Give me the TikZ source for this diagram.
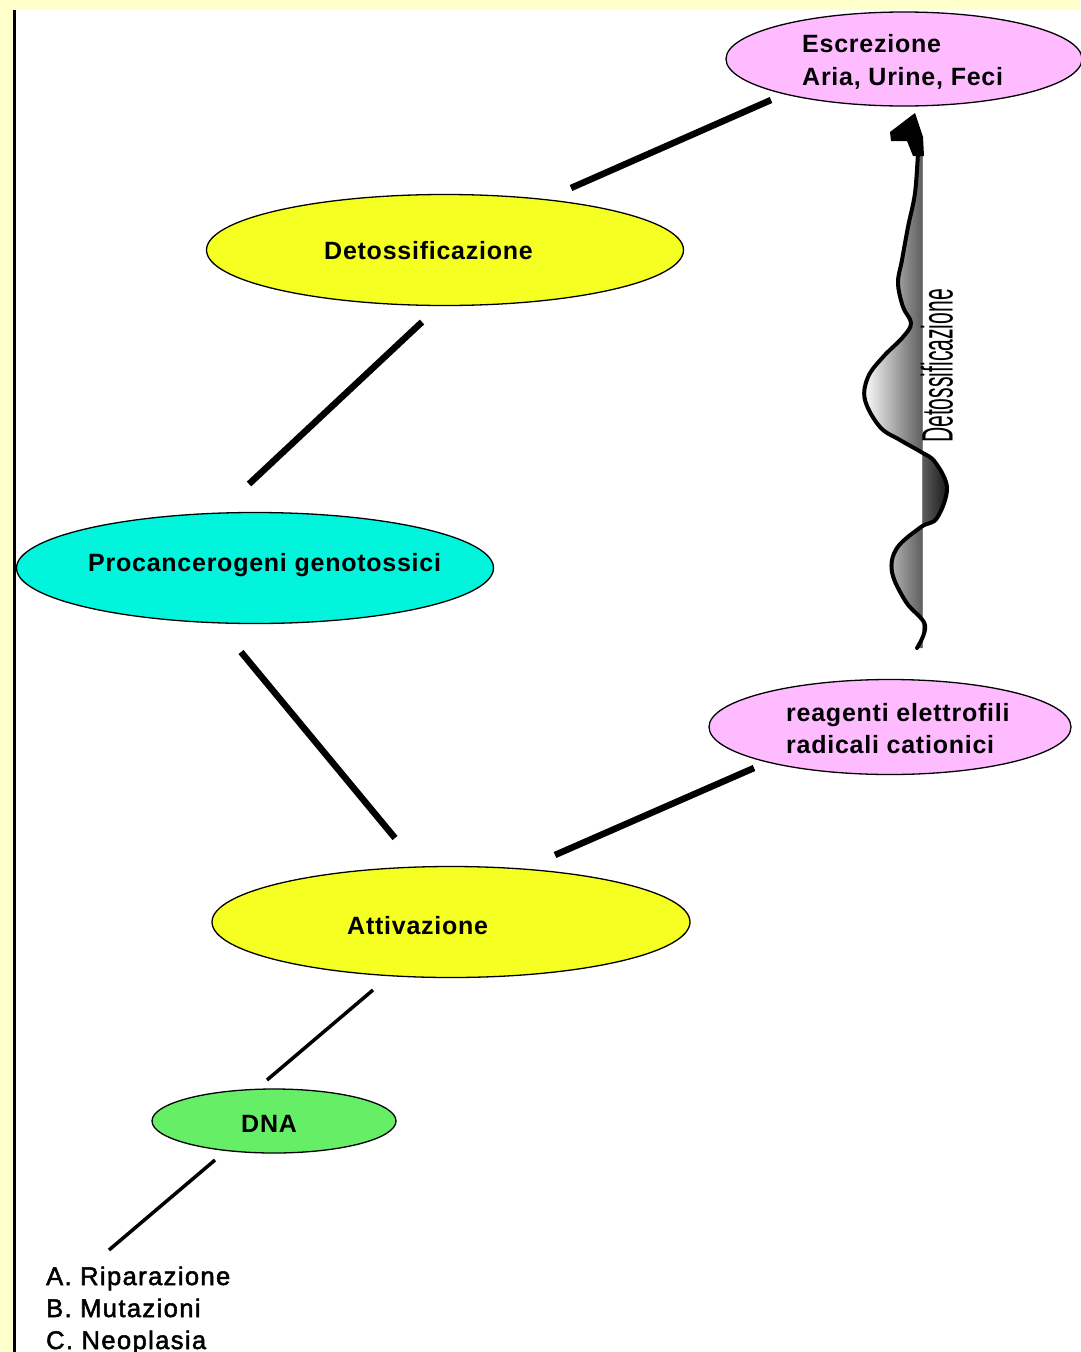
\documentclass[tikz,border=0pt]{standalone}
\usepackage{fontspec}
\setmainfont{Liberation Sans}
\usetikzlibrary{shapes.geometric}
\definecolor{bgy}{RGB}{255,255,204}
\definecolor{pinkf}{RGB}{255,187,255}
\definecolor{yelf}{RGB}{245,255,34}
\definecolor{cyanf}{RGB}{0,245,220}
\definecolor{greenf}{RGB}{102,238,102}
\begin{document}
\begin{tikzpicture}[x=1pt,y=-1pt,
  blob/.style={ellipse, draw=black, line width=1.3pt, inner sep=0pt},
  txt/.style={inner sep=0pt, anchor=base west, font=\fontsize{25}{32}\selectfont\bfseries\addfontfeatures{LetterSpace=3}},
  listtxt/.style={inner sep=0pt, anchor=base west, font=\fontsize{25.5}{32}\selectfont\addfontfeatures{LetterSpace=5.5,FakeBold=2}},
  conn/.style={line width=6.5pt},
  connthin/.style={line width=3.5pt}]
\useasboundingbox (0,0) rectangle (1080,1352);
\fill[white] (0,0) rectangle (1080,1352);
% border
\fill[bgy] (0,0) rectangle (1080,10);
\fill[bgy] (0,0) rectangle (13,1352);
\draw[line width=2.5pt] (14.5,10) -- (14.5,1352);

% ellipses
\node[blob, fill=pinkf, minimum width=356pt, minimum height=94pt] (escr) at (904,59) {};
\node[blob, fill=yelf, minimum width=477pt, minimum height=111pt] (detox) at (445,250) {};
\node[blob, fill=cyanf, minimum width=477pt, minimum height=111pt] (proc) at (255,568) {};
\node[blob, fill=pinkf, minimum width=362pt, minimum height=95pt] (reag) at (890,727) {};
\node[blob, fill=yelf, minimum width=478pt, minimum height=111pt] (attiv) at (451,922) {};
\node[blob, fill=greenf, minimum width=244pt, minimum height=64pt] (dna) at (274,1121) {};

% texts
\node[txt] (escrT1) at (802,52) {Escrezione};
\node[txt] (escrT2) at (802,85) {Aria, Urine, Feci};
\node[txt] (detoxT) at (324,259) {Detossificazione};
\node[txt] (procT) at (88,571) {Procancerogeni genotossici};
\node[txt] (reagT1) at (786,721) {reagenti elettrofili};
\node[txt] (reagT2) at (786,753) {radicali cationici};
\node[txt] (attivT) at (347,934) {Attivazione};
\node[txt] (dnaT) at (241,1132) {DNA};
\node[listtxt] (listA) at (46,1285) {A. Riparazione};
\node[listtxt] (listB) at (46,1317) {B. Mutazioni};
\node[listtxt] (listC) at (46,1349) {C. Neoplasia};

% connector end points
\coordinate (c1a) at (571,188); \coordinate (c1b) at (771,100);
\coordinate (c2a) at (422,322); \coordinate (c2b) at (249,484);
\coordinate (c3a) at (241,652); \coordinate (c3b) at (395,838);
\coordinate (c4a) at (555,855); \coordinate (c4b) at (754,768);
\coordinate (c5a) at (373,990); \coordinate (c5b) at (267,1080);
\coordinate (c6a) at (215,1160); \coordinate (c6b) at (109,1250);
\draw[conn] (c1a) -- (c1b);
\draw[conn] (c2a) -- (c2b);
\draw[conn] (c3a) -- (c3b);
\draw[conn] (c4a) -- (c4b);
\draw[connthin] (c5a) -- (c5b);
\draw[connthin] (c6a) -- (c6b);

% wavy ribbon arrow
\def\wavepts{(917,648) (925,625) (906,602) (892,572) (897,548) (921,527) (937,518)
  (947,488) (935,462) (921,452) (900,440) (880,427) (865,400) (868,377) (883,357)
  (903,337) (911,323) (903,307) (898,283) (902,260) (908,227) (915,193) (918,152)}
\shade[left color=white, right color=black!90]
  (922,150) -- (922,648) -- plot[smooth, tension=0.6] coordinates {\wavepts} -- cycle;
\draw[gray, line width=1pt] (922,145) -- (922,648);
\draw[line width=4pt, line cap=round] plot[smooth, tension=0.6] coordinates {\wavepts};
\fill (915,113) -- (890,132) -- (891,141) -- (907,141) -- (913,156) -- (924,156) -- (923,137) -- cycle;
\node[rotate=90, inner sep=0pt, font=\fontsize{44}{44}\selectfont] (waveT) at (937,366) {\scalebox{0.48}[1]{Detossificazione}};
\end{tikzpicture}
\end{document}
